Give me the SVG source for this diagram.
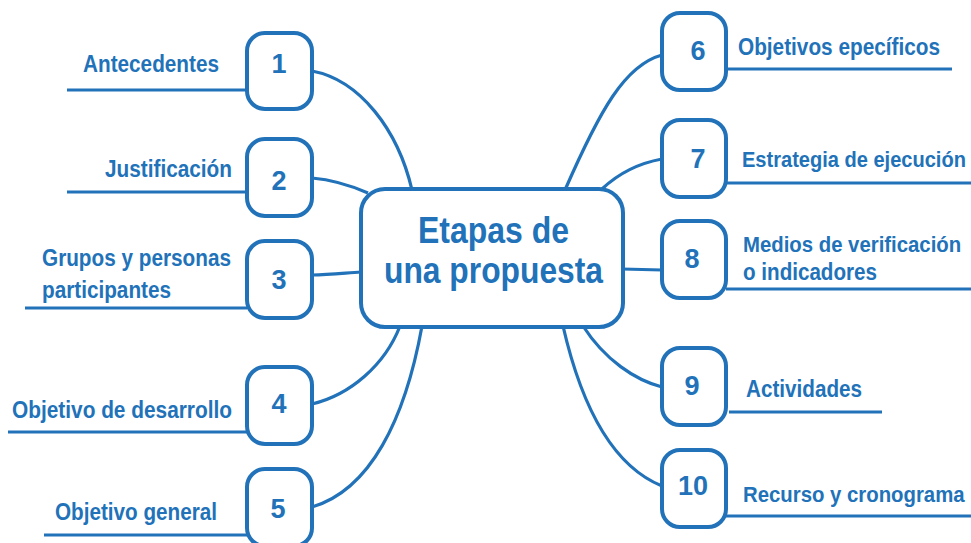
<svg xmlns="http://www.w3.org/2000/svg" width="971" height="543" viewBox="0 0 971 543">
<style>
.box{fill:#fff;stroke:#2172B9;stroke-width:4}
.ln{fill:none;stroke:#2172B9;stroke-width:3.2}
.lab{font-family:"Liberation Sans",Arial,sans-serif;font-weight:bold;font-size:23px;fill:#2172B9}
.num{font-family:"Liberation Sans",Arial,sans-serif;font-weight:bold;font-size:27px;fill:#2172B9;text-anchor:middle}
.title{font-family:"Liberation Sans",Arial,sans-serif;font-weight:bold;font-size:36px;fill:#2172B9}
</style>
<rect width="971" height="543" fill="#fff"/>
<g id="connectors">
<path class="ln" d="M312,71 C360,80 398,130 412,190"/>
<path class="ln" d="M312,178 C335,180 352,186 368,193"/>
<path class="ln" d="M312,275 C330,275 345,273 361,272"/>
<path class="ln" d="M312,404 C350,395 385,365 400,326"/>
<path class="ln" d="M312,507 C370,490 405,420 422,326"/>
<path class="ln" d="M565,190 C600,110 625,65 662,55"/>
<path class="ln" d="M602,189 C620,172 640,163 662,159"/>
<path class="ln" d="M622,269 L662,270"/>
<path class="ln" d="M583,326 C605,360 635,380 662,387"/>
<path class="ln" d="M563,326 C580,400 610,465 662,486"/>
<line class="ln" x1="67" y1="90" x2="247" y2="90"/>
<line class="ln" x1="67" y1="192" x2="247" y2="192"/>
<line class="ln" x1="25" y1="308" x2="247" y2="308"/>
<line class="ln" x1="8" y1="432" x2="247" y2="432"/>
<line class="ln" x1="44" y1="535" x2="247" y2="535"/>
<line class="ln" x1="726" y1="69" x2="952" y2="69"/>
<line class="ln" x1="726" y1="183" x2="971" y2="183"/>
<line class="ln" x1="726" y1="289" x2="971" y2="289"/>
<line class="ln" x1="729" y1="412" x2="882" y2="412"/>
<line class="ln" x1="726" y1="516" x2="971" y2="516"/>
</g>
<g id="center">
<rect class="box" x="361" y="189" width="262" height="138" rx="24"/>
<text class="title" x="418" y="243" textLength="151" lengthAdjust="spacingAndGlyphs">Etapas de</text>
<text class="title" x="384" y="283" textLength="219" lengthAdjust="spacingAndGlyphs">una propuesta</text>
</g>
<g id="n1">
<rect class="box" x="247" y="33" width="65" height="76" rx="18"/>
<text class="num" x="279" y="73">1</text>
<text class="lab" x="83" y="72" textLength="136" lengthAdjust="spacingAndGlyphs">Antecedentes</text>
</g>
<g id="n2">
<rect class="box" x="247" y="139" width="65" height="77" rx="18"/>
<text class="num" x="279" y="190">2</text>
<text class="lab" x="105" y="177" textLength="127" lengthAdjust="spacingAndGlyphs">Justificación</text>
</g>
<g id="n3">
<rect class="box" x="247" y="241" width="65" height="77" rx="18"/>
<text class="num" x="279" y="289">3</text>
<text class="lab" x="42" y="266" textLength="189" lengthAdjust="spacingAndGlyphs">Grupos y personas</text>
<text class="lab" x="42" y="298" textLength="129" lengthAdjust="spacingAndGlyphs">participantes</text>
</g>
<g id="n4">
<rect class="box" x="247" y="367" width="65" height="77" rx="18"/>
<text class="num" x="279" y="413">4</text>
<text class="lab" x="12" y="418" textLength="220" lengthAdjust="spacingAndGlyphs">Objetivo de desarrollo</text>
</g>
<g id="n5">
<rect class="box" x="247" y="469" width="65" height="77" rx="18"/>
<text class="num" x="278" y="518">5</text>
<text class="lab" x="55" y="520" textLength="162" lengthAdjust="spacingAndGlyphs">Objetivo general</text>
</g>
<g id="n6">
<rect class="box" x="662" y="13" width="64" height="77" rx="18"/>
<text class="num" x="698" y="60">6</text>
<text class="lab" x="738" y="55" textLength="202" lengthAdjust="spacingAndGlyphs">Objetivos epecíficos</text>
</g>
<g id="n7">
<rect class="box" x="662" y="120" width="64" height="77" rx="18"/>
<text class="num" x="698" y="168">7</text>
<text class="lab" transform="translate(742,167) scale(0.872,1)">Estrategia de ejecución</text>
</g>
<g id="n8">
<rect class="box" x="662" y="221" width="64" height="77" rx="18"/>
<text class="num" x="692" y="268">8</text>
<text class="lab" transform="translate(743,252) scale(0.885,1)">Medios de verificación</text>
<text class="lab" x="743" y="280" textLength="134" lengthAdjust="spacingAndGlyphs">o indicadores</text>
</g>
<g id="n9">
<rect class="box" x="662" y="348" width="64" height="77" rx="18"/>
<text class="num" x="692" y="395">9</text>
<text class="lab" x="746" y="397" textLength="116" lengthAdjust="spacingAndGlyphs">Actividades</text>
</g>
<g id="n10">
<rect class="box" x="662" y="450" width="64" height="77" rx="18"/>
<text class="num" x="693" y="495">10</text>
<text class="lab" transform="translate(743,502) scale(0.885,1)">Recurso y cronograma</text>
</g>
</svg>
